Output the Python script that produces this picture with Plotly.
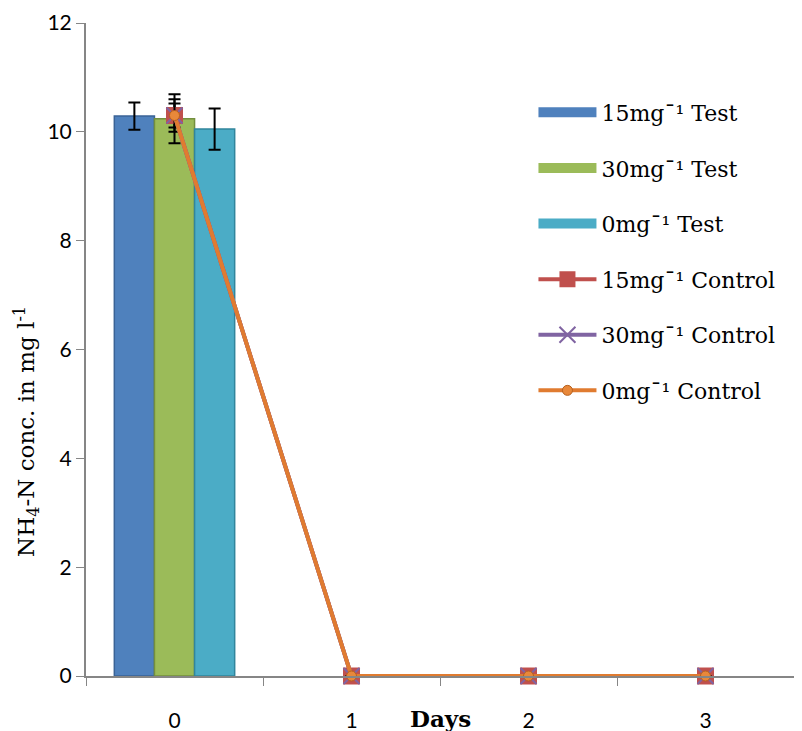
import plotly.graph_objects as go

# --------------------------------------------------------------
# Data
# --------------------------------------------------------------
DAYS = ["0", "1", "2", "3"]

TEST_15 = [10.29, None, None, None]
TEST_30 = [10.24, None, None, None]
TEST_0 = [10.05, None, None, None]
TEST_15_ERR = [0.25, 0, 0, 0]
TEST_30_ERR = [0.45, 0, 0, 0]
TEST_0_ERR = [0.38, 0, 0, 0]

CONTROL_15 = [10.3, 0, 0, 0]
CONTROL_30 = [10.3, 0, 0, 0]
CONTROL_0 = [10.3, 0, 0, 0]
CONTROL_15_ERR = [0.3, 0, 0, 0]
CONTROL_30_ERR = [0.22, 0, 0, 0]

SERIF = "DejaVu Serif"
SANS = "Lato"


def err(vals):
    return dict(type="data", array=vals, color="black", thickness=2, width=6)


def build_figure():
    fig = go.Figure()

    # bars (Test) -- legend drawn with thick line stand-ins
    bars = [
        ("15mg¯¹ Test", TEST_15, TEST_15_ERR, "#4F81BD", "#3A6396"),
        ("30mg¯¹ Test", TEST_30, TEST_30_ERR, "#9BBB59", "#748F3E"),
        ("0mg¯¹ Test", TEST_0, TEST_0_ERR, "#4BACC6", "#31859C"),
    ]
    for i, (name, vals, e, color, edge) in enumerate(bars):
        fig.add_bar(
            x=DAYS, y=vals, name=name, legendgroup=f"g{i}", showlegend=False,
            marker=dict(color=color, line=dict(color=edge, width=1.5)),
            error_y=err(e),
        )
        fig.add_scatter(
            x=[None], y=[None], name=name, legendgroup=f"g{i}",
            mode="lines", line=dict(color=color, width=16),
        )

    # lines (Control)
    fig.add_scatter(
        x=DAYS, y=CONTROL_15, name="15mg¯¹ Control", legendgroup="g3",
        mode="lines+markers", cliponaxis=False,
        line=dict(color="#C0504D", width=4),
        marker=dict(symbol="square", size=17, color="#C0504D"),
        error_y=err(CONTROL_15_ERR),
    )
    fig.add_scatter(
        x=DAYS, y=CONTROL_30, name="30mg¯¹ Control", legendgroup="g4",
        mode="lines+markers", cliponaxis=False,
        line=dict(color="#8064A2", width=4),
        marker=dict(symbol="x-thin", size=16, color="#8064A2",
                    line=dict(color="#8064A2", width=2)),
        error_y=err(CONTROL_30_ERR),
    )
    fig.add_scatter(
        x=DAYS, y=CONTROL_0, name="0mg¯¹ Control", legendgroup="g5",
        mode="lines+markers", cliponaxis=False,
        line=dict(color="#E07B30", width=4),
        marker=dict(symbol="circle", size=10, color="#E8883A",
                    line=dict(color="#B5601F", width=1)),
    )

    # page body adds 8px at left/top, so the figure is sized to fit inside
    fig.update_layout(
        width=786, height=723,
        margin=dict(l=78, r=0, t=15, b=55, autoexpand=False),
        paper_bgcolor="white", plot_bgcolor="white",
        barmode="group", bargap=0.32, bargroupgap=0,
        font=dict(family=SERIF, size=22, color="black"),
        legend=dict(
            x=0.632, y=0.895, xanchor="left", yanchor="top",
            font=dict(family=SERIF, size=22),
            tracegroupgap=24, itemwidth=58,
            bgcolor="rgba(0,0,0,0)",
        ),
        showlegend=True,
    )

    fig.update_xaxes(
        type="category", tickson="boundaries", automargin=False,
        showline=True, linecolor="#868686", linewidth=2,
        ticks="outside", ticklen=8, tickcolor="#868686",
        tickfont=dict(family=SANS, size=21), ticklabelstandoff=25,
        showgrid=False, zeroline=False,
    )
    fig.update_yaxes(
        range=[0, 12], dtick=2, automargin=False,
        showline=True, linecolor="#868686", linewidth=2,
        ticks="outside", ticklen=8, tickcolor="#868686",
        tickfont=dict(family=SANS, size=21),
        showgrid=False, zeroline=False,
    )

    # y title sits below the axis centre in the original
    fig.add_annotation(
        text="NH<sub>4</sub>-N conc. in mg l<sup>-1</sup>",
        x=-0.085, y=0.375, xref="paper", yref="paper", textangle=-90,
        xanchor="center", yanchor="middle", showarrow=False,
        font=dict(family=SERIF, size=23),
    )

    # "Days" sits on the tick label row
    fig.add_annotation(
        text="<b>Days</b>", x=0.5, y=-0.041, xref="paper", yref="paper",
        xanchor="center", yanchor="top", showarrow=False,
        font=dict(family=SERIF, size=23),
    )

    return fig


fig = build_figure()
fig.write_html("out.html")
